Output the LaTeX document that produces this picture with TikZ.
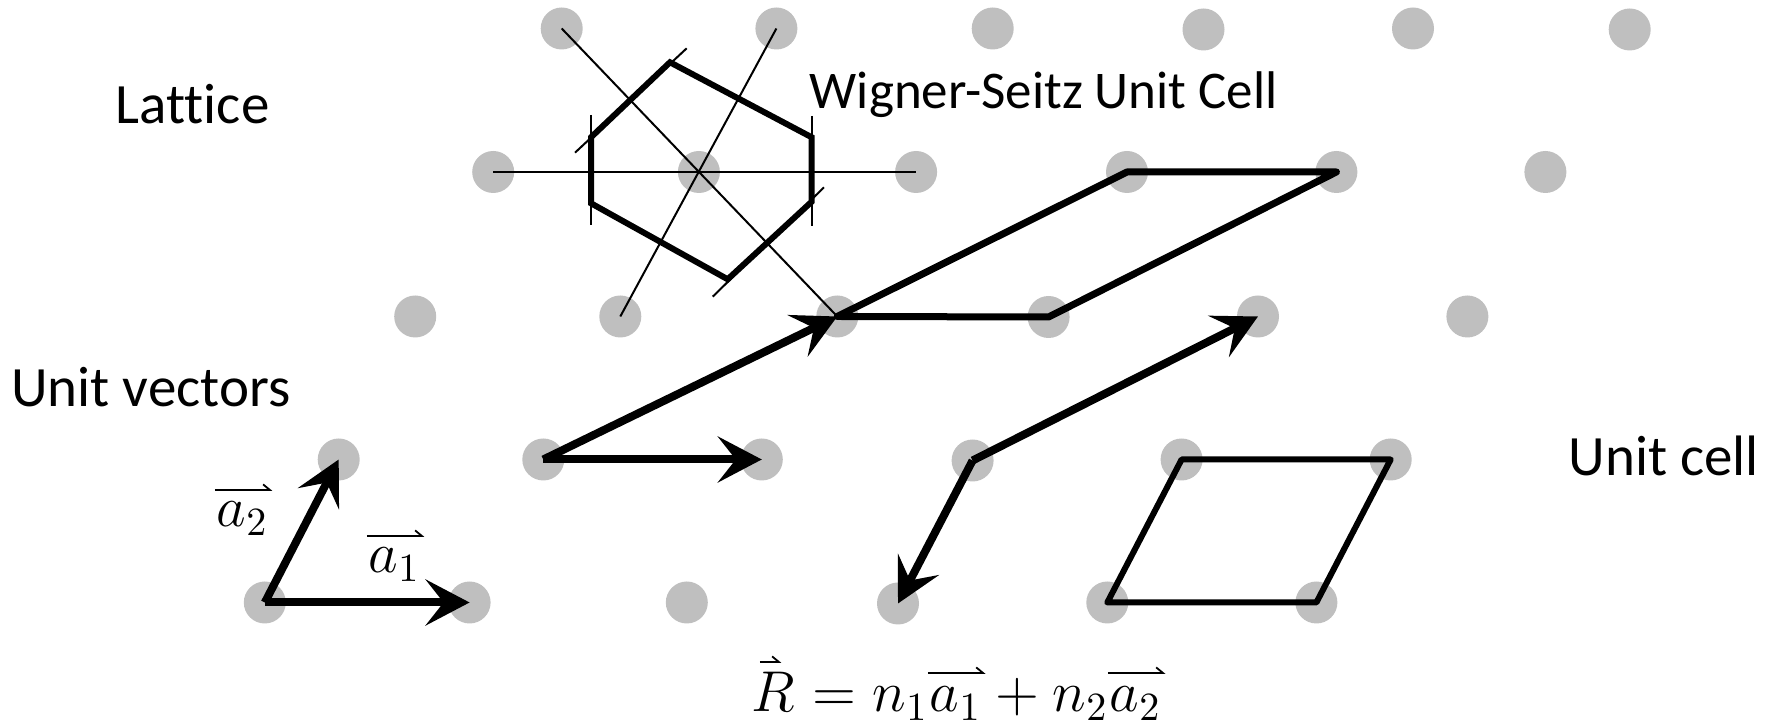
\documentclass[tikz,border=0pt]{standalone}
\usepackage[no-math]{fontspec}
\newfontfamily\calibri[Ligatures={NoCommon,NoContextual}]{Carlito}
\usetikzlibrary{arrows.meta}
\definecolor{dotgray}{RGB}{191,191,191}
\begin{document}
\begin{tikzpicture}[x=0.25pt,y=-0.25pt,
  dot/.style={circle,fill=dotgray,inner sep=0pt,minimum size=10.5pt},
  lbl/.style={inner sep=0pt,anchor=base west,font=\calibri\fontsize{14.25pt}{17pt}\selectfont},
  wslbl/.style={inner sep=0pt,anchor=base west,font=\calibri\fontsize{13.25pt}{16pt}\selectfont},
  mathlbl/.style={inner sep=0pt,anchor=base west,font=\fontsize{14.4pt}{17pt}\selectfont},
  overarr/.style={line width=0.45pt,-{Straight Barb[left,length=1.7pt,width=2.8pt]}},
  thinline/.style={line width=0.5pt},
  hexedge/.style={line width=1.5pt,line join=miter},
  cellline/.style={line width=1.75pt,line join=round},
  vecarrow/.style={line width=2pt,-{Stealth[length=11pt,width=11.5pt,inset=4.5pt]}}
]
\useasboundingbox (0,0) rectangle (1769,725);

% lattice points
\node[dot] (d11) at (561.7,28.5) {};
\node[dot] (d12) at (776.4,28.5) {};
\node[dot] (d13) at (992.7,28.5) {};
\node[dot] (d14) at (1203.5,29.5) {};
\node[dot] (d15) at (1413,28.5) {};
\node[dot] (d16) at (1629.7,29.5) {};
\node[dot] (d21) at (493.2,172) {};
\node[dot] (d22) at (698.9,172) {};
\node[dot] (d23) at (916.1,172) {};
\node[dot] (d24) at (1127,172) {};
\node[dot] (d25) at (1336.4,172) {};
\node[dot] (d26) at (1545.4,172) {};
\node[dot] (d31) at (415.2,316.5) {};
\node[dot] (d32) at (620.3,316.5) {};
\node[dot] (d33) at (837.3,316.5) {};
\node[dot] (d34) at (1048.6,317) {};
\node[dot] (d35) at (1258,316.5) {};
\node[dot] (d36) at (1467.4,316.5) {};
\node[dot] (d41) at (338.7,459.5) {};
\node[dot] (d42) at (543.3,459.5) {};
\node[dot] (d43) at (761.8,459.5) {};
\node[dot] (d44) at (972.6,460.5) {};
\node[dot] (d45) at (1181.6,459.5) {};
\node[dot] (d46) at (1390.7,459.5) {};
\node[dot] (d51) at (264.8,602.5) {};
\node[dot] (d52) at (469.6,602.5) {};
\node[dot] (d53) at (686.8,602.5) {};
\node[dot] (d54) at (898,603.5) {};
\node[dot] (d55) at (1107.3,602.5) {};
\node[dot] (d56) at (1316.4,602.5) {};

% texts
\node[lbl] (tlattice) at (115,124) {Lattice};
\node[lbl] (tunitvec) at (10.5,406.7) {Unit vectors};
\node[lbl] (tunitcell) at (1568,475.7) {Unit cell};
\node[wslbl] (tws) at (809,108.3) {Wigner-Seitz Unit Cell};

% vector labels
\node[mathlbl] (la2) at (216,527) {$a_2$};
\node[mathlbl] (la1) at (368,573) {$a_1$};
\draw[overarr] ([xshift=-0.3pt,yshift=9.25pt]la2.base west) -- ([xshift=0.8pt,yshift=9.25pt]la2.base east);
\draw[overarr] ([xshift=-0.3pt,yshift=9.25pt]la1.base west) -- ([xshift=0.8pt,yshift=9.25pt]la1.base east);

% equation
\node[mathlbl] (eqR) at (751,712) {$R$};
\node[mathlbl] (eqB) at (eqR.base east) {${}= n_1$};
\node[mathlbl] (eqa1) at (eqB.base east) {$a_1$};
\node[mathlbl] (eqC) at (eqa1.base east) {${}+ n_2$};
\node[mathlbl] (eqa2) at (eqC.base east) {$a_2$};
\draw[overarr] ([xshift=2.2pt,yshift=12.5pt]eqR.base west) -- ([xshift=7.6pt,yshift=12.5pt]eqR.base west);
\draw[overarr] ([xshift=-0.3pt,yshift=9.75pt]eqa1.base west) -- ([xshift=0.8pt,yshift=9.75pt]eqa1.base east);
\draw[overarr] ([xshift=-0.3pt,yshift=9.75pt]eqa2.base west) -- ([xshift=0.8pt,yshift=9.75pt]eqa2.base east);

% Wigner-Seitz construction
\draw[thinline] (d21.center) -- (d23.center);
\draw[thinline] (d11.center) -- (d33.center);
\draw[thinline] (d12.center) -- (d32.center);
\coordinate (wsL1) at (591,115);
\coordinate (wsL2) at (591,225);
\coordinate (wsR1) at (811.7,116);
\coordinate (wsR2) at (811.7,226);
\coordinate (wsU1) at (575,152.7);
\coordinate (wsU2) at (686.7,48.3);
\coordinate (wsD1) at (712.7,296.7);
\coordinate (wsD2) at (824,187.3);
\draw[thinline] (wsL1) -- (wsL2);
\draw[thinline] (wsR1) -- (wsR2);
\draw[thinline] (wsU1) -- (wsU2);
\draw[thinline] (wsD1) -- (wsD2);
\coordinate (h1) at (670,62.3);
\coordinate (h2) at (811.7,137.3);
\coordinate (h3) at (811.7,201.7);
\coordinate (h4) at (727.7,279.3);
\coordinate (h5) at (591,203.3);
\coordinate (h6) at (591,137.3);
\draw[hexedge] (h1) -- (h2) -- (h3) -- (h4) -- (h5) -- (h6) -- cycle;

% primitive cell (large)
\draw[cellline] (d33.center) -- (d34.center) -- (d25.center) -- (d24.center) -- cycle;

% unit cell
\draw[cellline,line width=1.5pt] (d55.center) -- (d56.center) -- (d46.center) -- (d45.center) -- cycle;

% vectors
\draw[vecarrow] (d51.center) -- (d52.center);
\draw[vecarrow] (d51.center) -- (d41.center);
\draw[vecarrow] (d42.center) -- (d43.center);
\draw[vecarrow] (d42.center) -- (d33.center);
\draw[vecarrow] (d44.center) -- (d35.center);
\draw[vecarrow] (d44.center) -- (d54.center);
\end{tikzpicture}
\end{document}
